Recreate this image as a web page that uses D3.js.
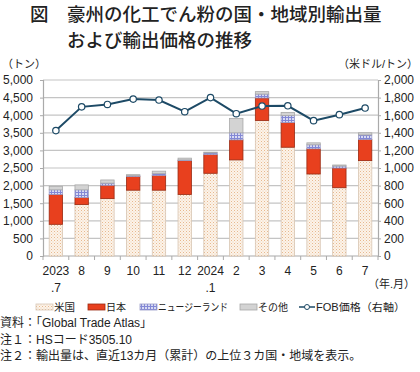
<!DOCTYPE html>
<html>
<head>
<meta charset="utf-8">
<script src="https://cdn.jsdelivr.net/npm/d3@7"></script>
<style>
  body { margin: 0; background: #fff; }
  svg text { font-family: "Liberation Sans", "Noto Sans CJK JP", sans-serif; }
</style>
</head>
<body>
<div id="chart"></div>
<script>
// data
var monthTop = ["2023","8","9","10","11","12","2024","2","3","4","5","6","7"];
var monthBottom = [".7","","","","","",".1","","","","","",""];
var usa   = [900,1460,1630,1870,1870,1750,2350,2730,3850,3090,2330,1940,2710];
var japan = [850, 200, 380, 390, 420, 960, 530, 570, 640, 700, 715, 560, 600];
var nz    = [130, 220,  60,  20,  50,  20,  50, 200, 110, 200, 115,  55, 130];
var other = [100, 140,  90,  30,  70,  50,  20, 410,  70,  90,  55,  30,  60];
var fob   = [1425,1695,1722,1783,1772,1640,1800,1617,1704,1707,1538,1606,1681];
var leftTicks = [0,500,1000,1500,2000,2500,3000,3500,4000,4500,5000];
var rightTicks = [0,200,400,600,800,1000,1200,1400,1600,1800,2000];

var W = 420, H = 372;
var svg = d3.select("#chart").append("svg")
    .attr("width", W)
    .attr("height", H);

var defs = svg.append("defs");
// US dotted pattern
var pUs = defs.append("pattern").attr("id","pUs").attr("patternUnits","userSpaceOnUse")
    .attr("width",3).attr("height",3);
pUs.append("rect").attr("width",3).attr("height",3).attr("fill","#fcf3ea");
pUs.append("rect").attr("x",0).attr("y",0).attr("width",1).attr("height",1).attr("fill","#e7b98e");
pUs.append("rect").attr("x",1.5).attr("y",1.5).attr("width",1).attr("height",1).attr("fill","#efcfae");
// NZ grid pattern
var pNz = defs.append("pattern").attr("id","pNz").attr("patternUnits","userSpaceOnUse")
    .attr("width",3).attr("height",3);
pNz.append("rect").attr("width",3).attr("height",3).attr("fill","#d9dbf3");
pNz.append("rect").attr("width",3).attr("height",1).attr("fill","#8388d6");
pNz.append("rect").attr("width",1).attr("height",3).attr("fill","#8388d6");

var pl = 43, pr = 378, pt = 80, pb = 256;

var x = d3.scaleBand()
    .domain(d3.range(monthTop.length))
    .range([pl, pr])
    .paddingInner(0.48)
    .paddingOuter(0.24);
var y = d3.scaleLinear().domain([0,5000]).range([pb, pt]);
var y2 = d3.scaleLinear().domain([0,2000]).range([pb, pt]);

// title
var title = svg.append("g").attr("font-size",18.5).attr("font-weight",500).attr("fill","#222");
title.append("text").attr("x",30).attr("y",21).style("font-family","'Noto Sans CJK JP'").text("図");
title.append("text").attr("x",67).attr("y",21).style("font-family","'Noto Sans CJK JP'").text("豪州の化工でん粉の国・地域別輸出量");
title.append("text").attr("x",67).attr("y",47).style("font-family","'Noto Sans CJK JP'").text("および輸出価格の推移");

// units
svg.append("text").attr("x",2).attr("y",68).attr("font-size",11).attr("fill","#222").text("（トン）");
svg.append("text").attr("x",W-2).attr("y",68).attr("text-anchor","end").attr("font-size",11).attr("fill","#222").text("（米ドル/トン）");

// grid
svg.append("g").selectAll("line").data(leftTicks.slice(1)).join("line")
    .attr("x1", pl).attr("x2", pr)
    .attr("y1", d => y(d)).attr("y2", d => y(d))
    .attr("stroke","#c4c4c4").attr("stroke-width",1.2);

// left axis
var ax = svg.append("g").attr("transform","translate(" + pl + ",0)")
    .call(d3.axisLeft(y).tickValues(leftTicks).tickSize(3).tickFormat(d3.format(",")));
ax.select(".domain").attr("stroke","#aaa").attr("stroke-width",1.2);
ax.selectAll(".tick line").attr("stroke","#aaa");
ax.selectAll("text").attr("font-size",12).attr("fill","#222").attr("x",-10)
    .style("font-family","'Liberation Sans'");

// right axis
var ax2 = svg.append("g").attr("transform","translate(" + pr + ",0)")
    .call(d3.axisRight(y2).tickValues(rightTicks).tickSize(3).tickFormat(d3.format(",")));
ax2.select(".domain").attr("stroke","#aaa").attr("stroke-width",1.2);
ax2.selectAll(".tick line").attr("stroke","#aaa");
ax2.selectAll("text").attr("font-size",12).attr("fill","#222").attr("x",6)
    .style("font-family","'Liberation Sans'");

// bottom axis
var xb = svg.append("g").attr("transform","translate(0," + pb + ")");
xb.append("line").attr("x1",pl).attr("x2",pr).attr("stroke","#aaa").attr("stroke-width",1.2);
xb.selectAll("line.tk").data(d3.range(monthTop.length + 1)).join("line").attr("class","tk")
    .attr("x1", i => pl + i * x.step()).attr("x2", i => pl + i * x.step())
    .attr("y1",0).attr("y2",4).attr("stroke","#aaa");
xb.selectAll("text.t1").data(monthTop).join("text").attr("class","t1")
    .attr("x",(d,i) => x(i) + x.bandwidth()/2).attr("y",19)
    .attr("text-anchor","middle").attr("font-size",12).attr("fill","#222").text(d => d);
xb.selectAll("text.t2").data(monthBottom).join("text").attr("class","t2")
    .attr("x",(d,i) => x(i) + x.bandwidth()/2).attr("y",36)
    .attr("text-anchor","middle").attr("font-size",12).attr("fill","#222").text(d => d);
svg.append("text").attr("x",W-5).attr("y",288).attr("text-anchor","end")
    .attr("font-size",11).attr("fill","#222").text("（年.月）");

// stacked bars
var rows = monthTop.map((m,i) => ({i:i, usa:usa[i], japan:japan[i], nz:nz[i], other:other[i]}));
var keys = ["usa","japan","nz","other"];
var fills = {usa:"url(#pUs)", japan:"#e8401e", nz:"url(#pNz)", other:"#d3d3d3"};
var strokes = {usa:"#d8c6b4", japan:"#9a2a12", nz:"#9a9cc8", other:"#a8a8a8"};
var stack = d3.stack().keys(keys)(rows);
svg.append("g").selectAll("g").data(stack).join("g")
    .attr("fill", s => fills[s.key]).attr("stroke", s => strokes[s.key]).attr("stroke-width",0.8)
  .selectAll("rect").data(s => s).join("rect")
    .attr("x", d => x(d.data.i))
    .attr("width", x.bandwidth())
    .attr("y", d => y(d[1]))
    .attr("height", d => y(d[0]) - y(d[1]));

// FOB line
var line = d3.line().x((d,i) => x(i) + x.bandwidth()/2).y(d => y2(d));
svg.append("path").datum(fob).attr("d", line)
    .attr("fill","none").attr("stroke","#1d4a66").attr("stroke-width",2);
svg.append("g").selectAll("circle").data(fob).join("circle")
    .attr("cx",(d,i) => x(i) + x.bandwidth()/2).attr("cy", d => y2(d)).attr("r",3.2)
    .attr("fill","#fff").attr("stroke","#1d4a66").attr("stroke-width",1.2);

// legend
var ly = 307;
var leg = [
  {label:"米国", fill:"url(#pUs)", stroke:"#d8c6b4", x:36, w:21},
  {label:"日本", fill:"#e8401e", stroke:"#9a2a12", x:88, w:20},
  {label:"ニュージーランド", fill:"url(#pNz)", stroke:"#9a9cc8", x:140, w:70},
  {label:"その他", fill:"#d3d3d3", stroke:"#a8a8a8", x:240, w:30}
];
var lg = svg.append("g");
leg.forEach(function(d){
  lg.append("rect").attr("x",d.x).attr("y",ly-3).attr("width",17).attr("height",6)
    .attr("fill",d.fill).attr("stroke",d.stroke).attr("stroke-width",0.8);
  lg.append("text").attr("x",d.x+18).attr("y",ly+4).attr("font-size",10.5).attr("fill","#222")
    .attr("textLength",d.w).attr("lengthAdjust","spacingAndGlyphs").text(d.label);
});
lg.append("line").attr("x1",299).attr("x2",315).attr("y1",ly).attr("y2",ly)
    .attr("stroke","#1d4a66").attr("stroke-width",1.5);
lg.append("circle").attr("cx",307).attr("cy",ly).attr("r",2.5)
    .attr("fill","#fff").attr("stroke","#1d4a66");
lg.append("text").attr("x",316).attr("y",ly+4).attr("font-size",10.5).attr("fill","#222")
    .attr("textLength",89).attr("lengthAdjust","spacingAndGlyphs").text("FOB価格（右軸）");

// notes
var notes = ["資料：「Global Trade Atlas」","注１：HSコード3505.10","注２：輸出量は、直近13カ月（累計）の上位３カ国・地域を表示。"];
svg.append("g").selectAll("text").data(notes).join("text")
    .attr("x",0).attr("y",(d,i) => 327 + i*16.5)
    .attr("font-size",12).attr("fill","#222").text(d => d);
</script>
</body>
</html>
